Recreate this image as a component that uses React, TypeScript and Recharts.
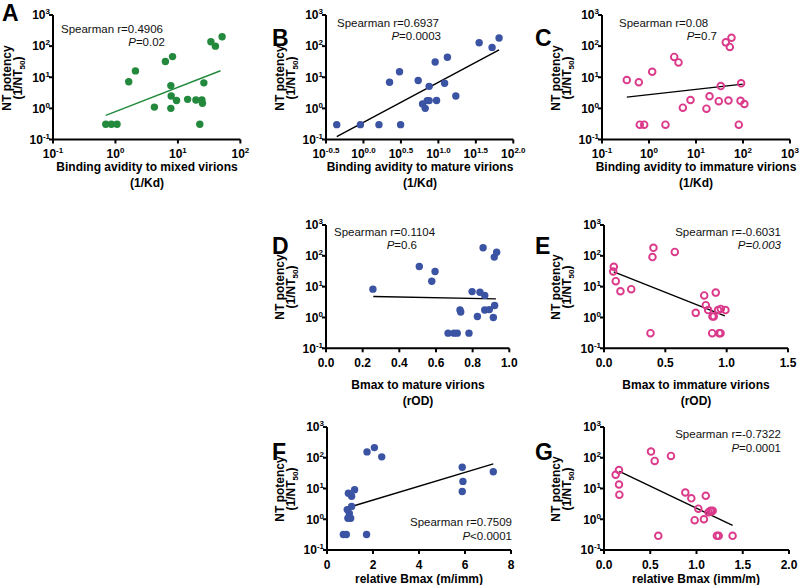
import React from 'react';
import { ScatterChart, Scatter, XAxis, YAxis } from 'recharts';

const FONT = 'Arial, "Liberation Sans", Helvetica, sans-serif';
const GREEN = '#23893d';
const BLUE = '#3a53a3';
const PINK = '#db3a8b';

// tick labels
const Y_EXP_LABELS = ['-1', '0', '1', '2', '3'];
const A_X_EXP_LABELS = ['-1', '0', '1', '2'];
const B_X_EXP_LABELS = ['-0.5', '0.0', '0.5', '1.0', '1.5', '2.0'];
const C_X_EXP_LABELS = ['-1', '0', '1', '2', '3'];
const D_X_TICKS = [0, 0.2, 0.4, 0.6, 0.8, 1.0];
const E_X_TICKS = [0, 0.5, 1.0, 1.5];
const F_X_TICKS = [0, 2, 4, 6, 8];
const G_X_TICKS = [0, 0.5, 1.0, 1.5, 2.0];

// A: binding avidity to mixed virions vs NT potency
const A_X = [0.70, 0.86, 1.06, 1.63, 2.09, 4.2, 6.3, 8.2, 7.7, 7.8, 7.7, 9.5, 14.3, 19.4, 24.2, 24.7, 22.4, 26, 33.7, 39.8, 51];
const A_Y = [0.31, 0.31, 0.31, 7.2, 16, 1.1, 32, 46, 5.4, 2.5, 1.0, 1.8, 1.95, 1.86, 1.86, 1.45, 0.31, 6.6, 138, 100, 200];
const A_FIT_X = [0.70, 48];
const A_FIT_Y = [0.6, 16.2];

// B: binding avidity to mature virions
const B_X = [0.44, 0.91, 1.61, 3.13, 2.23, 3.03, 5.38, 7.53, 9.06, 13.2, 12.1, 17.1, 9.46, 6.15, 7.1, 6.67, 7.53, 35, 52.1, 64.6];
const B_Y = [0.3, 0.3, 0.3, 0.3, 6.9, 15, 7.9, 5.1, 31, 44, 6.4, 2.5, 1.8, 1.38, 1.78, 1.0, 1.78, 129, 91, 182];
const B_FIT_X = [0.44, 64.6];
const B_FIT_Y = [0.123, 76];

// C: binding avidity to immature virions
const C_X = [0.337, 0.607, 1.17, 0.637, 0.79, 2.24, 3.44, 4.25, 5.25, 7.64, 16.7, 19.4, 30.5, 33.7, 43, 52.4, 56.9, 49, 81.3, 91.2, 88.5, 107];
const C_Y = [8.1, 6.9, 15, 0.3, 0.3, 0.3, 45, 30, 1.05, 1.86, 0.98, 2.45, 1.7, 5.2, 132, 94, 186, 1.78, 0.3, 6.4, 1.75, 1.38];
const C_FIT_X = [0.337, 99];
const C_FIT_Y = [2.3, 6.0];

// D: Bmax to mature virions
const D_X = [0.256, 0.509, 0.595, 0.577, 0.666, 0.698, 0.716, 0.78, 0.731, 0.735, 0.797, 0.826, 0.84, 0.866, 0.857, 0.866, 0.891, 0.918, 0.931, 0.92, 0.913];
const D_Y = [8.3, 45, 31, 15, 0.31, 0.31, 0.31, 0.31, 1.74, 1.5, 6.9, 1.07, 6.6, 5.2, 182, 1.74, 1.8, 91, 131, 2.45, 1.0];
const D_FIT_X = [0.258, 0.927];
const D_FIT_Y = [4.8, 4.0];

// E: Bmax to immature virions
const E_X = [0.08, 0.075, 0.096, 0.134, 0.222, 0.403, 0.395, 0.379, 0.577, 0.748, 0.817, 0.83, 0.849, 0.911, 0.884, 0.895, 0.882, 0.939, 0.95, 0.93, 0.952, 0.99];
const E_Y = [44, 31, 15, 7.1, 8.3, 182, 91, 0.31, 134, 1.41, 5.2, 2.5, 1.74, 6.4, 1.08, 1.08, 0.31, 0.31, 0.31, 1.74, 1.9, 1.74];
const E_FIT_X = [0.08, 0.985];
const E_FIT_Y = [30, 1.13];

// F: relative Bmax (m/imm)
const F_X = [0.71, 0.84, 1.72, 0.93, 1.07, 1.2, 1.07, 0.88, 0.97, 1.03, 0.91, 1.74, 2.06, 2.38, 5.88, 5.91, 5.88, 7.23];
const F_Y = [0.32, 0.32, 0.32, 7.0, 5.6, 9.1, 2.6, 2.06, 1.53, 1.08, 1.08, 155, 214, 107, 49, 17, 8.0, 35];
const F_FIT_X = [1.07, 7.23];
const F_FIT_Y = [2.6, 63];

// G: relative Bmax (imm/m)
const G_X = [0.162, 0.126, 0.162, 0.166, 0.508, 0.548, 0.724, 0.587, 0.879, 0.944, 1.02, 0.98, 1.08, 1.10, 1.13, 1.15, 1.175, 1.16, 1.22, 1.24, 1.39];
const G_Y = [40, 28, 13.5, 6.3, 159, 79, 115, 0.29, 7.4, 4.8, 2.2, 0.93, 1.0, 5.8, 1.7, 1.9, 1.9, 1.8, 0.29, 0.29, 0.29];
const G_FIT_X = [0.166, 1.39];
const G_FIT_Y = [36, 0.63];

const zip = (xs: number[], ys: number[]) => xs.map((x, i) => ({ x, y: ys[i] }));
const expTicks = (labels: string[]) => labels.map((e) => Math.pow(10, Number(e)));

const Y_AXIS_W = 50;
const TOP = 10;
const RIGHT = 14;
const X_AXIS_H = 30;

const tickText = { fontFamily: FONT, fontWeight: 'bold' as const, fontSize: 12, fill: '#000' };

function logXTick(labels: string[]) {
  return (p: any) => (
    <text x={p.x} y={p.y + 12.5} textAnchor="middle" {...tickText}>
      10<tspan dy={-5} fontSize={8}>{labels[p.index]}</tspan>
    </text>
  );
}

function linXTick(decimals: number) {
  return (p: any) => (
    <text x={p.x} y={p.y + 12.5} textAnchor="middle" {...tickText}>
      {Number(p.payload.value).toFixed(decimals)}
    </text>
  );
}

const logYTick = (p: any) => (
  <text x={p.x + 3} y={p.y + 4.3} textAnchor="end" {...tickText}>
    10<tspan dy={-5} fontSize={8}>{Y_EXP_LABELS[p.index]}</tspan>
  </text>
);

interface PanelProps {
  x0: number;
  x1: number;
  y0: number;
  y1: number;
  xLog: boolean;
  xDomain: [number, number];
  xTicks: number[];
  xTick: (p: any) => React.ReactElement;
  points: { x: number; y: number }[];
  fit: { x: number; y: number }[];
  color: string;
  open: boolean;
  lineColor: string;
}

function Panel({ x0, x1, y0, y1, xLog, xDomain, xTicks, xTick, points, fit, color, open, lineColor }: PanelProps) {
  const width = x1 - x0 + Y_AXIS_W + RIGHT;
  const height = y1 - y0 + TOP + X_AXIS_H;
  const axisStyle = { stroke: '#000', strokeWidth: 2 };
  return (
    <div style={{ position: 'absolute', left: x0 - Y_AXIS_W, top: y0 - TOP, width, height }}>
      <ScatterChart width={width} height={height} margin={{ top: TOP, right: RIGHT, bottom: 0, left: 0 }}>
        <XAxis
          type="number"
          dataKey="x"
          scale={xLog ? 'log' : 'linear'}
          domain={xDomain}
          ticks={xTicks}
          allowDataOverflow
          height={X_AXIS_H}
          axisLine={axisStyle}
          tickLine={axisStyle}
          tickSize={4}
          tick={xTick}
          interval={0}
        />
        <YAxis
          type="number"
          dataKey="y"
          scale="log"
          domain={[0.1, 1000]}
          ticks={expTicks(Y_EXP_LABELS)}
          allowDataOverflow
          width={Y_AXIS_W}
          axisLine={axisStyle}
          tickLine={axisStyle}
          tickSize={4}
          tick={logYTick}
          interval={0}
        />
        <Scatter
          data={fit}
          line={{ stroke: lineColor, strokeWidth: 1.4 }}
          shape={() => <g />}
          isAnimationActive={false}
        />
        <Scatter
          data={points}
          isAnimationActive={false}
          shape={(p: any) =>
            open ? (
              <circle cx={p.cx} cy={p.cy} r={3.3} fill="none" stroke={color} strokeWidth={1.9} />
            ) : (
              <circle cx={p.cx} cy={p.cy} r={3.7} fill={color} />
            )
          }
        />
      </ScatterChart>
    </div>
  );
}

function YTitle({ cx, cy }: { cx: number; cy: number }) {
  const common = { fontFamily: FONT, fontWeight: 'bold' as const, fontSize: 12, fill: '#000', textAnchor: 'middle' as const };
  return (
    <g>
      <text transform={`translate(${cx - 5.5},${cy}) rotate(-90)`} dy="0.35em" {...common}>
        NT potency
      </text>
      <text transform={`translate(${cx + 6},${cy}) rotate(-90)`} dy="0.35em" {...common}>
        (1/NT<tspan dy={3} fontSize={8}>50</tspan>
        <tspan dy={-3}>)</tspan>
      </text>
    </g>
  );
}

function XTitle({ cx, y, lines }: { cx: number; y: number; lines: string[] }) {
  return (
    <g>
      {lines.map((l, i) => (
        <text key={i} x={cx} y={y + i * 15.5} textAnchor="middle" fontFamily={FONT} fontWeight="bold" fontSize={12} fill="#000">
          {l}
        </text>
      ))}
    </g>
  );
}

function Letter({ x, y, t }: { x: number; y: number; t: string }) {
  return (
    <text x={x} y={y} fontFamily={FONT} fontWeight="bold" fontSize={23} fill="#000">
      {t}
    </text>
  );
}

const STAT_SIZE = 11.5;

function RText({ x, y, anchor, r }: { x: number; y: number; anchor: 'start' | 'end'; r: string }) {
  return (
    <text x={x} y={y} textAnchor={anchor} fontFamily={FONT} fontSize={STAT_SIZE} fill="#111">
      Spearman r={r}
    </text>
  );
}

function PText({ x, y, rest, allItalic }: { x: number; y: number; rest: string; allItalic?: boolean }) {
  return (
    <text x={x} y={y} textAnchor="end" fontFamily={FONT} fontSize={STAT_SIZE} fill="#111" fontStyle={allItalic ? 'italic' : 'normal'}>
      <tspan fontStyle="italic">P</tspan>
      {rest}
    </text>
  );
}

export default function App() {
  const rowA = { y0: 15, y1: 139.5 };
  const rowD = { y0: 225, y1: 348.3 };
  const rowF = { y0: 427, y1: 550 };
  return (
    <div style={{ position: 'absolute', left: 0, top: 0, width: 800, height: 585, overflow: 'hidden', background: '#fff' }}>
      <Panel {...rowA} x0={53.3} x1={240.7} xLog xDomain={[0.1, 100]} xTicks={expTicks(A_X_EXP_LABELS)} xTick={logXTick(A_X_EXP_LABELS)}
        points={zip(A_X, A_Y)} fit={zip(A_FIT_X, A_FIT_Y)} color={GREEN} open={false} lineColor={GREEN} />
      <Panel {...rowA} x0={326} x1={513.3} xLog xDomain={[Math.pow(10, -0.5), 100]} xTicks={expTicks(B_X_EXP_LABELS)} xTick={logXTick(B_X_EXP_LABELS)}
        points={zip(B_X, B_Y)} fit={zip(B_FIT_X, B_FIT_Y)} color={BLUE} open={false} lineColor="#000" />
      <Panel {...rowA} x0={602.3} x1={790.3} xLog xDomain={[0.1, 1000]} xTicks={expTicks(C_X_EXP_LABELS)} xTick={logXTick(C_X_EXP_LABELS)}
        points={zip(C_X, C_Y)} fit={zip(C_FIT_X, C_FIT_Y)} color={PINK} open lineColor="#000" />
      <Panel {...rowD} x0={326} x1={509.3} xLog={false} xDomain={[0, 1]} xTicks={D_X_TICKS} xTick={linXTick(1)}
        points={zip(D_X, D_Y)} fit={zip(D_FIT_X, D_FIT_Y)} color={BLUE} open={false} lineColor="#000" />
      <Panel {...rowD} x0={603.5} x1={787.5} xLog={false} xDomain={[0, 1.5]} xTicks={E_X_TICKS} xTick={linXTick(1)}
        points={zip(E_X, E_Y)} fit={zip(E_FIT_X, E_FIT_Y)} color={PINK} open lineColor="#000" />
      <Panel {...rowF} x0={327} x1={511} xLog={false} xDomain={[0, 8]} xTicks={F_X_TICKS} xTick={linXTick(0)}
        points={zip(F_X, F_Y)} fit={zip(F_FIT_X, F_FIT_Y)} color={BLUE} open={false} lineColor="#000" />
      <Panel {...rowF} x0={604} x1={789} xLog={false} xDomain={[0, 2]} xTicks={G_X_TICKS} xTick={linXTick(1)}
        points={zip(G_X, G_Y)} fit={zip(G_FIT_X, G_FIT_Y)} color={PINK} open lineColor="#000" />

      <svg width={800} height={585} style={{ position: 'absolute', left: 0, top: 0, pointerEvents: 'none' }}>
        <Letter x={2} y={21} t="A" />
        <Letter x={272} y={46} t="B" />
        <Letter x={535} y={46} t="C" />
        <Letter x={272} y={254} t="D" />
        <Letter x={535} y={254} t="E" />
        <Letter x={272} y={460} t="F" />
        <Letter x={535} y={460} t="G" />

        <YTitle cx={12} cy={78} />
        <YTitle cx={285} cy={78} />
        <YTitle cx={561} cy={78} />
        <YTitle cx={285} cy={287} />
        <YTitle cx={561} cy={287} />
        <YTitle cx={285} cy={489} />
        <YTitle cx={561} cy={489} />

        <XTitle cx={147} y={171} lines={['Binding avidity to mixed virions', '(1/Kd)']} />
        <XTitle cx={420} y={171} lines={['Binding avidity to mature virions', '(1/Kd)']} />
        <XTitle cx={696} y={171} lines={['Binding avidity to immature virions', '(1/Kd)']} />
        <XTitle cx={418} y={389} lines={['Bmax to mature virions', '(rOD)']} />
        <XTitle cx={696} y={389} lines={['Bmax to immature virions', '(rOD)']} />
        <XTitle cx={419} y={583} lines={['relative Bmax (m/imm)']} />
        <XTitle cx={696} y={583} lines={['relative Bmax (imm/m)']} />

        <RText x={61} y={33} anchor="start" r="0.4906" />
        <PText x={165} y={46} rest="=0.02" />
        <RText x={337} y={27} anchor="start" r="0.6937" />
        <PText x={441} y={40} rest="=0.0003" />
        <RText x={619} y={27} anchor="start" r="0.08" />
        <PText x={717} y={40} rest="=0.7" />
        <RText x={334} y={236} anchor="start" r="0.1104" />
        <PText x={417} y={249} rest="=0.6" />
        <RText x={781} y={236} anchor="end" r="-0.6031" />
        <PText x={781} y={249} rest="=0.003" allItalic />
        <RText x={512} y={526} anchor="end" r="0.7509" />
        <PText x={512} y={540} rest="<0.0001" />
        <RText x={781} y={438} anchor="end" r="-0.7322" />
        <PText x={781} y={452} rest="=0.0001" />
      </svg>
    </div>
  );
}
